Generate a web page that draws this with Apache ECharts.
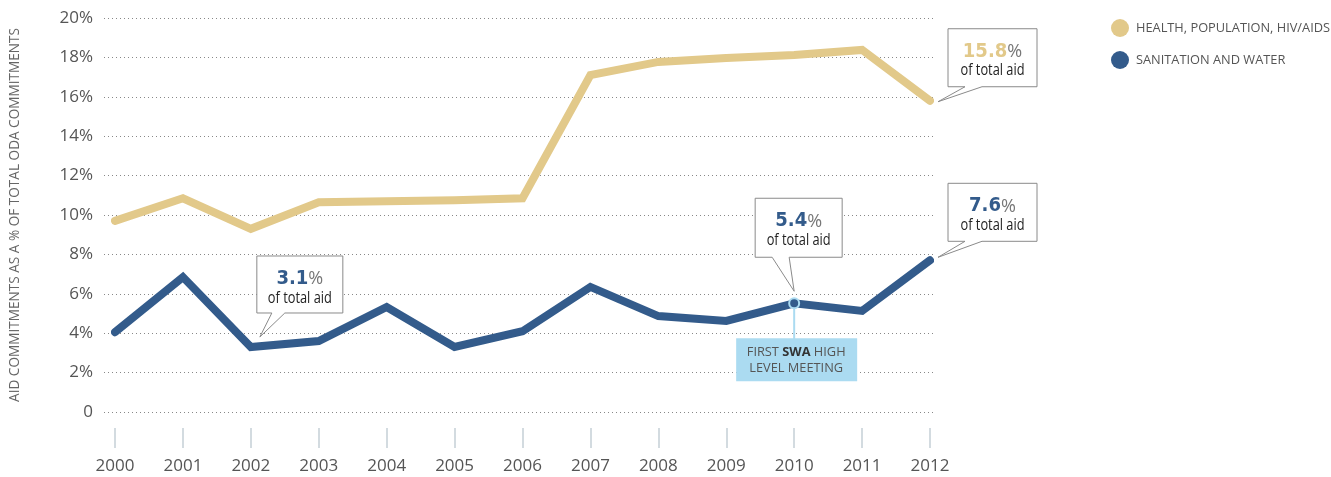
<!DOCTYPE html>
<html>
<head>
<meta charset="utf-8">
<script src="https://cdn.jsdelivr.net/npm/echarts@6/dist/echarts.min.js"></script>
<style>
  html, body { margin: 0; padding: 0; background: #fff; }
  #chart { width: 1331px; height: 477px; }
</style>
</head>
<body>
<div id="chart"></div>
<script>
// data
const years = ['2000', '2001', '2002', '2003', '2004', '2005', '2006', '2007', '2008', '2009', '2010', '2011', '2012'];
const health = [9.7, 10.85, 9.3, 10.65, 10.7, 10.75, 10.85, 17.1, 17.77, 17.97, 18.12, 18.38, 15.8];
const sanitation = [4.05, 6.85, 3.3, 3.6, 5.33, 3.3, 4.1, 6.35, 4.87, 4.62, 5.52, 5.13, 7.7];
const seriesNames = ['HEALTH, POPULATION, HIV/AIDS', 'SANITATION AND WATER'];
// callouts: [series index, year index, label]
const callouts = [[1, 2, '3.1'], [1, 10, '5.4'], [0, 12, '15.8'], [1, 12, '7.6']];
const milestoneYear = 10;
const milestoneText = ['FIRST {b|SWA} HIGH', 'LEVEL MEETING'];

const GOLD = '#e2c98a';
const BLUE = '#335b8b';
const SKY = '#abdbf1';
const colors = [GOLD, BLUE];

const chart = echarts.init(document.getElementById('chart'));

const axisFont = "'Open Sans', 'Noto Sans', sans-serif";

chart.setOption({
  animation: false,
  legend: {
    orient: 'vertical',
    left: 1106,
    top: 14,
    icon: 'circle',
    itemWidth: 18,
    itemHeight: 18,
    itemGap: 14,
    textStyle: { color: '#555', fontSize: 12.8, fontFamily: axisFont, padding: [0, 0, 0, 2] },
    data: seriesNames
  },
  grid: [
    { left: 115, right: 401, top: 18, bottom: 65 },
    { left: 100, right: 396, top: 18, bottom: 65 },
    { left: 115, right: 401, bottom: 49, height: 1 }
  ],
  xAxis: [
    { type: 'category', gridIndex: 0, data: years, boundaryGap: false, show: false },
    { type: 'value', gridIndex: 1, show: false },
    {
      type: 'category',
      gridIndex: 2,
      data: years,
      boundaryGap: false,
      axisLine: { show: false },
      axisTick: { show: true, length: 20, lineStyle: { color: '#c5d0d6', width: 1.5 } },
      axisLabel: { color: '#555', fontSize: 17, fontFamily: axisFont, margin: 30 }
    }
  ],
  yAxis: [
    { type: 'value', gridIndex: 0, min: 0, max: 20, interval: 2, show: false },
    {
      type: 'value',
      gridIndex: 1,
      min: 0,
      max: 20,
      interval: 2,
      name: 'AID COMMITMENTS AS A % OF TOTAL ODA COMMITMENTS',
      nameLocation: 'middle',
      nameRotate: 90,
      nameGap: 82,
      nameTextStyle: { color: '#666', fontSize: 13.6, fontFamily: axisFont },
      axisLine: { show: false },
      axisTick: { show: false },
      axisLabel: {
        color: '#555',
        fontSize: 17,
        fontFamily: axisFont,
        margin: 11,
        formatter: v => (v === 0 ? '0' : v + '%')
      },
      splitLine: { show: true, lineStyle: { color: '#888', type: [1, 3], width: 1 } }
    },
    { type: 'value', gridIndex: 2, show: false }
  ],
  series: [health, sanitation].map((d, i) => ({
    name: seriesNames[i],
    type: 'line',
    xAxisIndex: 0,
    yAxisIndex: 0,
    data: d,
    symbol: 'none',
    color: colors[i],
    lineStyle: { color: colors[i], width: 8, cap: 'round', join: 'miter' },
    z: 3
  }))
});

// annotations placed from the chart's own scales
function drawNotes() {
  const els = [];
  const shapes = {
    '3.1': { tip: [9, -10], box: [-3, -81, 86, 57], base: [12, 25] },
    '5.4': { tip: [0, -12], box: [-39, -93, 87, 59], base: [-22, -5] },
    '15.8': { tip: [8, 1], box: [10, -73, 89, 58], base: [27, 44] },
    '7.6': { tip: [8, -3], box: [10, -74, 89, 58], base: [27, 44] }
  };
  callouts.forEach(([si, yi, label]) => {
    const src = si === 0 ? health : sanitation;
    const p = chart.convertToPixel({ gridIndex: 0 }, [yi, src[yi]]);
    const s = shapes[label];
    const tx = p[0] + s.tip[0];
    const ty = p[1] + s.tip[1];
    const [bx, by, bw, bh] = s.box;
    const l = tx + bx, t = ty + by, r = l + bw, b = t + bh;
    els.push({
      type: 'polygon',
      z: 10,
      shape: { points: [[l, t], [r, t], [r, b], [tx + s.base[1], b], [tx, ty], [tx + s.base[0], b], [l, b]] },
      style: { fill: '#fff', stroke: '#8a8a8a', lineWidth: 1 }
    });
    els.push({
      type: 'text',
      z: 11,
      x: l + bw / 2,
      y: t + 23,
      scaleX: 0.95,
      style: {
        text: '{n|' + label + '}{p|%}',
        align: 'center',
        verticalAlign: 'middle',
        rich: {
          n: { fontSize: 19, fontWeight: 'bold', fill: colors[si], fontFamily: "'DejaVu Sans', sans-serif" },
          p: { fontSize: 19, fill: '#777', fontFamily: axisFont }
        }
      }
    });
    els.push({
      type: 'text',
      z: 11,
      x: l + bw / 2,
      y: t + 42,
      scaleX: 0.8,
      style: {
        text: 'of total aid',
        align: 'center',
        verticalAlign: 'middle',
        fontSize: 16,
        fill: '#222',
        fontFamily: axisFont
      }
    });
  });

  // milestone marker and label
  const m = chart.convertToPixel({ gridIndex: 0 }, [milestoneYear, sanitation[milestoneYear]]);
  els.push({
    type: 'line',
    z: 4,
    shape: { x1: m[0], y1: m[1], x2: m[0], y2: m[1] + 36 },
    style: { stroke: SKY, lineWidth: 2 }
  });
  els.push({
    type: 'circle',
    z: 5,
    shape: { cx: m[0], cy: m[1], r: 5 },
    style: { fill: BLUE, stroke: SKY, lineWidth: 2 }
  });
  els.push({
    type: 'rect',
    z: 5,
    shape: { x: m[0] - 58, y: m[1] + 35, width: 121, height: 43 },
    style: { fill: SKY }
  });
  els.push({
    type: 'text',
    z: 6,
    x: m[0] + 2,
    y: m[1] + 57,
    style: {
      text: milestoneText.join('\n'),
      align: 'center',
      verticalAlign: 'middle',
      fontSize: 12.8,
      lineHeight: 16,
      fill: '#555',
      fontFamily: axisFont,
      rich: { b: { fontSize: 12.8, fontWeight: 'bold', fill: '#333', fontFamily: axisFont } }
    }
  });
  chart.setOption({ graphic: { elements: els } });
}
drawNotes();
</script>
</body>
</html>
